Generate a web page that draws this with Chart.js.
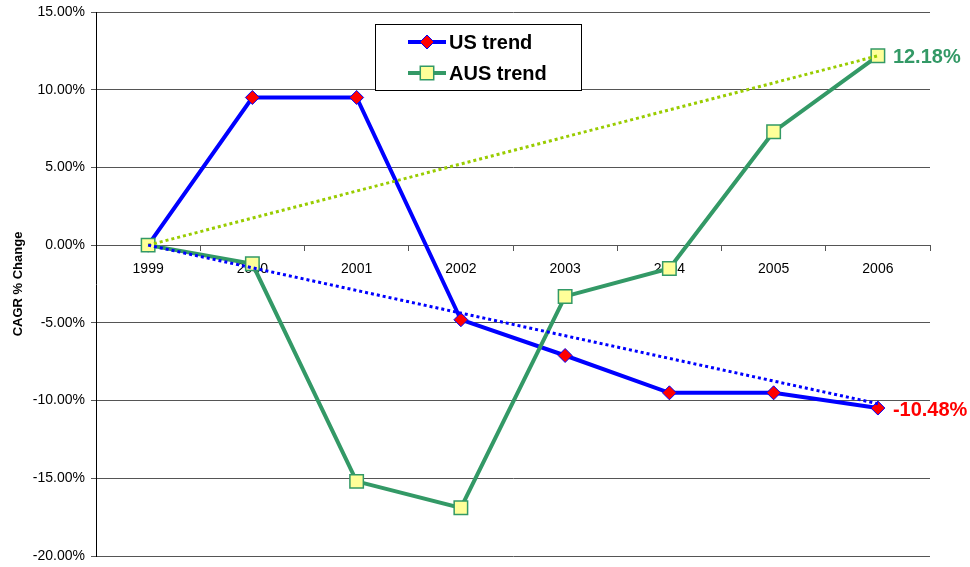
<!DOCTYPE html>
<html>
<head>
<meta charset="utf-8">
<script src="https://cdn.jsdelivr.net/npm/chart.js@4/dist/chart.umd.min.js"></script>
<style>
  html, body { margin: 0; padding: 0; background: #fff; }
  #wrap { width: 970px; height: 567px; }
</style>
</head>
<body>
<div id="wrap"><canvas id="myChart" width="970" height="567"></canvas></div>
<script>
const ctx = document.getElementById('myChart').getContext('2d');
const FONT = "Arial, 'Liberation Sans', sans-serif";

const years = ['1999', '2000', '2001', '2002', '2003', '2004', '2005', '2006'];
const usValues = [0, 9.5, 9.5, -4.8, -7.1, -9.5, -9.5, -10.48];
const ausValues = [0, -1.2, -15.2, -16.9, -3.3, -1.5, 7.3, 12.18];
// straight trend lines from first year to last year
const usTrend = [0, null, null, null, null, null, null, -10.2];
const ausTrend = [0, null, null, null, null, null, null, 12.18];
const yTicks = [-20, -15, -10, -5, 0, 5, 10, 15];

const blue = '#0000ff';
const green = '#339966';
const red = '#ff0000';
const lime = '#99cc00';

const data = {
  labels: years,
  datasets: [
    {
      label: 'US trend',
      data: usValues,
      borderColor: blue,
      borderWidth: 4,
      pointStyle: 'rectRot',
      pointRadius: 7,
      pointBackgroundColor: red,
      pointBorderColor: blue,
      pointBorderWidth: 1,
      order: 3
    },
    {
      label: 'AUS trend',
      data: ausValues,
      borderColor: green,
      borderWidth: 4,
      pointStyle: 'rect',
      pointRadius: 9.5,
      pointBackgroundColor: '#ffff99',
      pointBorderColor: green,
      pointBorderWidth: 1.5,
      order: 2
    },
    {
      label: 'US linear',
      data: usTrend,
      borderColor: blue,
      borderWidth: 3,
      borderDash: [3, 3],
      spanGaps: true,
      pointRadius: 0,
      order: 1
    },
    {
      label: 'AUS linear',
      data: ausTrend,
      borderColor: lime,
      borderWidth: 3,
      borderDash: [3, 3],
      spanGaps: true,
      pointRadius: 0,
      order: 1
    }
  ]
};

function marker(c, ds, x, y) {
  c.save();
  c.fillStyle = ds.pointBackgroundColor;
  c.strokeStyle = ds.pointBorderColor;
  c.lineWidth = ds.pointBorderWidth;
  c.beginPath();
  const r = ds.pointRadius;
  if (ds.pointStyle === 'rectRot') {
    c.moveTo(x - r, y);
    c.lineTo(x, y - r);
    c.lineTo(x + r, y);
    c.lineTo(x, y + r);
    c.closePath();
  } else {
    const s = r * Math.SQRT1_2;
    c.rect(x - s, y - s, 2 * s, 2 * s);
  }
  c.fill();
  c.stroke();
  c.restore();
}

// legend box inside the plot plus the end-of-series value labels
const extras = {
  id: 'extras',
  afterDraw(chart) {
    const c = chart.ctx;
    const bx = 375, by = 24, bw = 206, bh = 66;
    c.save();
    c.fillStyle = '#fff';
    c.fillRect(bx, by, bw, bh);
    c.strokeStyle = '#000';
    c.lineWidth = 1;
    c.strokeRect(bx + 0.5, by + 0.5, bw, bh);

    const rows = [42, 73];
    [0, 1].forEach((i, n) => {
      const ds = chart.data.datasets[i];
      const y = rows[n];
      c.strokeStyle = ds.borderColor;
      c.lineWidth = ds.borderWidth;
      c.beginPath();
      c.moveTo(408, y);
      c.lineTo(446, y);
      c.stroke();
      marker(c, ds, 427, y);
      c.fillStyle = '#000';
      c.font = 'bold 20px ' + FONT;
      c.textBaseline = 'middle';
      c.textAlign = 'left';
      c.fillText(ds.label, 449, y + 1);
    });

    // value at the last year for each series
    [[1, green], [0, red]].forEach(([i, col]) => {
      const meta = chart.getDatasetMeta(i);
      const pt = meta.data[meta.data.length - 1];
      const v = chart.data.datasets[i].data[meta.data.length - 1];
      c.fillStyle = col;
      c.font = 'bold 20px ' + FONT;
      c.textBaseline = 'middle';
      c.textAlign = 'left';
      c.fillText(v.toFixed(2) + '%', pt.x + 15, pt.y + 2);
    });
    c.restore();
  }
};

const config = {
  type: 'line',
  data: data,
  options: {
    responsive: false,
    animation: false,
    layout: { padding: { left: 0, top: 12, right: 40, bottom: 10 } },
    plugins: {
      legend: { display: false },
      tooltip: { enabled: false }
    },
    scales: {
      x: {
        position: { y: 0 },
        offset: true,
        z: 1,
        afterFit(scale) {
          scale.paddingTop = 0;
          scale.paddingBottom = 0;
        },
        grid: {
          offset: true,
          drawOnChartArea: false,
          tickLength: 5,
          color: '#555'
        },
        border: { display: true, color: '#555', width: 1 },
        ticks: {
          color: '#000',
          font: { family: FONT, size: 14 },
          padding: 11,
          maxRotation: 0
        }
      },
      y: {
        min: -20,
        max: 15,
        afterFit(scale) {
          scale.width = 96;
          scale.paddingTop = 0;
          scale.paddingBottom = 0;
        },
        afterBuildTicks(scale) { scale.ticks = yTicks.map(v => ({ value: v })); },
        grid: { color: '#555', tickLength: 5 },
        border: { display: true, color: '#000', width: 1 },
        ticks: {
          color: '#000',
          font: { family: FONT, size: 14 },
          padding: 6,
          callback: v => v.toFixed(2) + '%'
        },
        title: {
          display: true,
          text: 'CAGR % Change',
          color: '#000',
          font: { family: FONT, size: 13, weight: 'bold' },
          padding: { top: 11, bottom: 4 }
        }
      }
    }
  },
  plugins: [extras]
};
const myChart = new Chart(ctx, config);
</script>
</body>
</html>
